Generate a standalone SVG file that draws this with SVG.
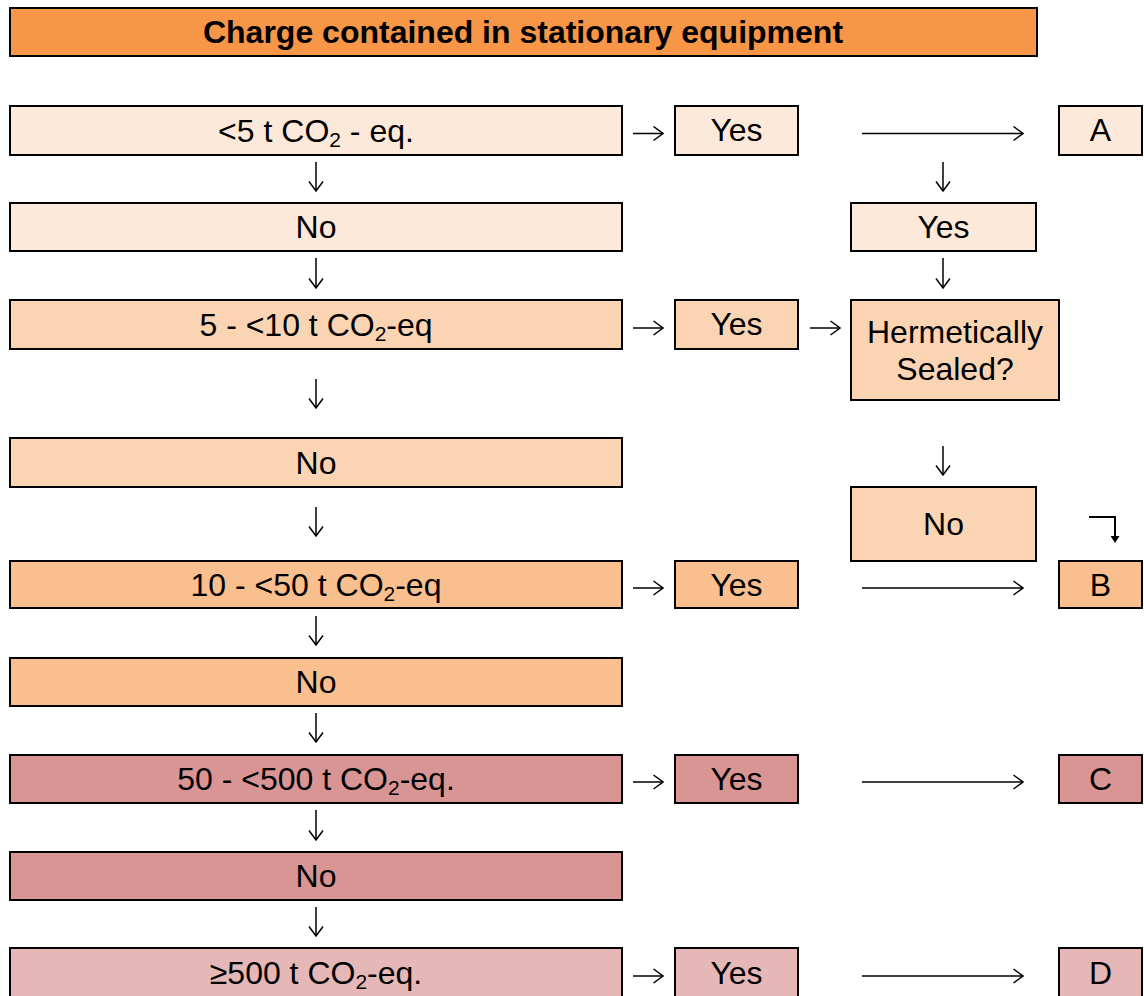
<svg xmlns="http://www.w3.org/2000/svg" width="1144" height="996" viewBox="0 0 1144 996">
<defs>
<style>
.n rect{stroke:#000;stroke-width:2}
.t{font-family:"Liberation Sans",Arial,sans-serif;font-size:32px;fill:#000;text-anchor:middle}
.h{font-weight:bold;font-size:32px}
.c0{fill:#F79646}.c1{fill:#FDE9D9}.c2{fill:#FBD4B4}.c3{fill:#FABF8F}.c4{fill:#D99594}.c5{fill:#E5B8B7}
.ar{fill:none;stroke:#000;stroke-width:1.5;marker-end:url(#open)}
.bent{fill:none;stroke:#000;stroke-width:2;marker-end:url(#solid)}
</style>
<marker id="open" viewBox="0 0 11 16" refX="10.5" refY="8" markerWidth="11" markerHeight="16" markerUnits="userSpaceOnUse" orient="auto">
<path d="M1,1 L10.5,8 L1,15" fill="none" stroke="#000" stroke-width="1.5"/>
</marker>
<marker id="solid" viewBox="0 0 7 9" refX="0" refY="4.5" markerWidth="7" markerHeight="9" markerUnits="userSpaceOnUse" orient="auto">
<path d="M0,0 L7,4.5 L0,9 z" fill="#000"/>
</marker>
</defs>

<g class="n">
<g id="title"><rect class="c0" x="10" y="8" width="1027" height="48"/><text class="t h" x="523" y="43">Charge contained in stationary equipment</text></g>

<g id="r1"><rect class="c1" x="10" y="106" width="612" height="49"/><text class="t" x="316" y="142">&lt;5 t CO<tspan font-size="21" dy="5">2</tspan><tspan dy="-5"> - eq.</tspan></text></g>
<g id="y1"><rect class="c1" x="675" y="106" width="123" height="49"/><text class="t" x="736.5" y="141">Yes</text></g>
<g id="a"><rect class="c1" x="1059" y="106" width="83" height="49"/><text class="t" x="1100.5" y="141">A</text></g>

<g id="r2"><rect class="c1" x="10" y="203" width="612" height="48"/><text class="t" x="316" y="238">No</text></g>
<g id="y2"><rect class="c1" x="851" y="203" width="185" height="48"/><text class="t" x="943.5" y="238">Yes</text></g>

<g id="r3"><rect class="c2" x="10" y="300" width="612" height="49"/><text class="t" x="316" y="336">5 - &lt;10 t CO<tspan font-size="21" dy="5">2</tspan><tspan dy="-5">-eq</tspan></text></g>
<g id="y3"><rect class="c2" x="675" y="300" width="123" height="49"/><text class="t" x="736.5" y="335">Yes</text></g>
<g id="hs"><rect class="c2" x="851" y="300" width="208" height="100"/><text class="t" x="955" y="343">Hermetically</text><text class="t" x="955" y="380">Sealed?</text></g>

<g id="r4"><rect class="c2" x="10" y="438" width="612" height="49"/><text class="t" x="316" y="474">No</text></g>
<g id="n4"><rect class="c2" x="851" y="487" width="185" height="74"/><text class="t" x="943.5" y="535">No</text></g>

<g id="r5"><rect class="c3" x="10" y="561" width="612" height="47"/><text class="t" x="316" y="596">10 - &lt;50 t CO<tspan font-size="21" dy="5">2</tspan><tspan dy="-5">-eq</tspan></text></g>
<g id="y5"><rect class="c3" x="675" y="561" width="123" height="47"/><text class="t" x="736.5" y="596">Yes</text></g>
<g id="b"><rect class="c3" x="1059" y="561" width="83" height="47"/><text class="t" x="1100.5" y="596">B</text></g>

<g id="r6"><rect class="c3" x="10" y="658" width="612" height="48"/><text class="t" x="316" y="693">No</text></g>

<g id="r7"><rect class="c4" x="10" y="755" width="612" height="48"/><text class="t" x="316" y="790">50 - &lt;500 t CO<tspan font-size="21" dy="5">2</tspan><tspan dy="-5">-eq.</tspan></text></g>
<g id="y7"><rect class="c4" x="675" y="755" width="123" height="48"/><text class="t" x="736.5" y="790">Yes</text></g>
<g id="c"><rect class="c4" x="1059" y="755" width="83" height="48"/><text class="t" x="1100.5" y="790">C</text></g>

<g id="r8"><rect class="c4" x="10" y="852" width="612" height="48"/><text class="t" x="316" y="887">No</text></g>

<g id="r9"><rect class="c5" x="10" y="948" width="612" height="52"/><text class="t" x="316" y="984">≥500 t CO<tspan font-size="21" dy="5">2</tspan><tspan dy="-5">-eq.</tspan></text></g>
<g id="y9"><rect class="c5" x="675" y="948" width="123" height="52"/><text class="t" x="736.5" y="984">Yes</text></g>
<g id="d"><rect class="c5" x="1059" y="948" width="83" height="52"/><text class="t" x="1100.5" y="984">D</text></g>
</g>

<g id="connectors">
<path class="ar" d="M633,133.5H663"/>
<path class="ar" d="M862,133.5H1023"/>
<path class="ar" d="M633,328H663"/>
<path class="ar" d="M810,328H840"/>
<path class="ar" d="M633,588H663"/>
<path class="ar" d="M862,588H1023"/>
<path class="ar" d="M633,782H663"/>
<path class="ar" d="M862,782H1023"/>
<path class="ar" d="M633,976H663"/>
<path class="ar" d="M862,976H1023"/>
<path class="ar" d="M316,162V191"/>
<path class="ar" d="M316,258V288"/>
<path class="ar" d="M316,379V408"/>
<path class="ar" d="M316,507V536"/>
<path class="ar" d="M316,616V645"/>
<path class="ar" d="M316,713V742"/>
<path class="ar" d="M316,810V840"/>
<path class="ar" d="M316,907V936"/>
<path class="ar" d="M943,162V191"/>
<path class="ar" d="M943,258V288"/>
<path class="ar" d="M943,446V475"/>
<path class="bent" d="M1089,517H1115V536"/>
</g>
</svg>
